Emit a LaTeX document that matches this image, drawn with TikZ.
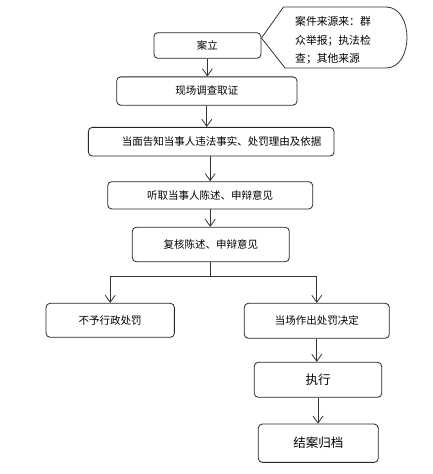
\documentclass[tikz,border=0pt]{standalone}
\usepackage{fontspec}
\newfontfamily\cjk{Noto Sans CJK SC}
\usetikzlibrary{arrows.meta}
\begin{document}
\begin{tikzpicture}[x=1pt,y=-1pt,
  stepbox/.style={draw=black!85,line width=0.8pt,rounded corners=4pt,inner sep=0pt,
    font=\cjk\fontsize{10.5}{12}\selectfont},
  bigbox/.style={stepbox,font=\cjk\fontsize{12.5}{14}\selectfont},
  arr/.style={draw=black!80,line width=0.8pt,-{Straight Barb[length=7pt,width=10pt,line width=0.8pt]}},
  ln/.style={draw=black!80,line width=0.8pt}]
\useasboundingbox (0,0) rectangle (433,474);
\node[stepbox,minimum width=107pt,minimum height=25.6pt] (a1) at (207.4,45.5) {案立};
\node[stepbox,minimum width=180.3pt,minimum height=28.3pt] (a2) at (206.8,91) {现场调查取证};
\node[stepbox,minimum width=245.7pt,minimum height=28.7pt] (a3) at (211.2,141.7) {\hspace*{21pt}当面告知当事人违法事实、处罚理由及依据};
\node[stepbox,minimum width=205pt,minimum height=27.3pt] (a4) at (210.2,195.3) {听取当事人陈述、申辩意见};
\node[stepbox,minimum width=157pt,minimum height=34.4pt] (a5) at (210.8,244.5) {复核陈述、申辩意见};
\node[stepbox,minimum width=128.3pt,minimum height=34pt] (a6) at (110.2,320.3) {不予行政处罚};
\node[stepbox,minimum width=145pt,minimum height=35pt] (a7) at (316.8,320.8) {当场作出处罚决定};
\node[bigbox,minimum width=127.4pt,minimum height=35pt] (a8) at (318,379.8) {执行};
\node[bigbox,minimum width=120pt,minimum height=38.3pt] (a9) at (318.3,443.2) {结案归档};
% callout
\draw[ln,line join=round] (283.5,7) -- (261.5,38) -- (285,68) -- (386,68)
  .. controls (414,68) and (414,7) .. (386,7) -- cycle;
\node[anchor=west,align=left,inner sep=0pt,font=\cjk\fontsize{10.8}{18.7}\selectfont] (c) at (295,40.5)
  {案件来源来：群\\众举报；执法检\\查；其他来源};
% connectors
\draw[arr] (a1.south) -- (a1.south |- a2.north);
\draw[arr] (a2.south) -- (a2.south |- a3.north);
\draw[arr] (a3.south -| a4.north) -- (a4.north);
\draw[arr] (a4.south) -- (a4.south |- a5.north);
\coordinate (j) at (211.2,276);
\draw[ln] (a5.south) -- (a5.south |- j);
\draw[arr] (j) -| (a6.north);
\draw[arr] (j) -| (a7.north);
\draw[arr] (a7.south) -- (a7.south |- a8.north);
\draw[arr] (a8.south) -- (a8.south |- a9.north);
\end{tikzpicture}
\end{document}
